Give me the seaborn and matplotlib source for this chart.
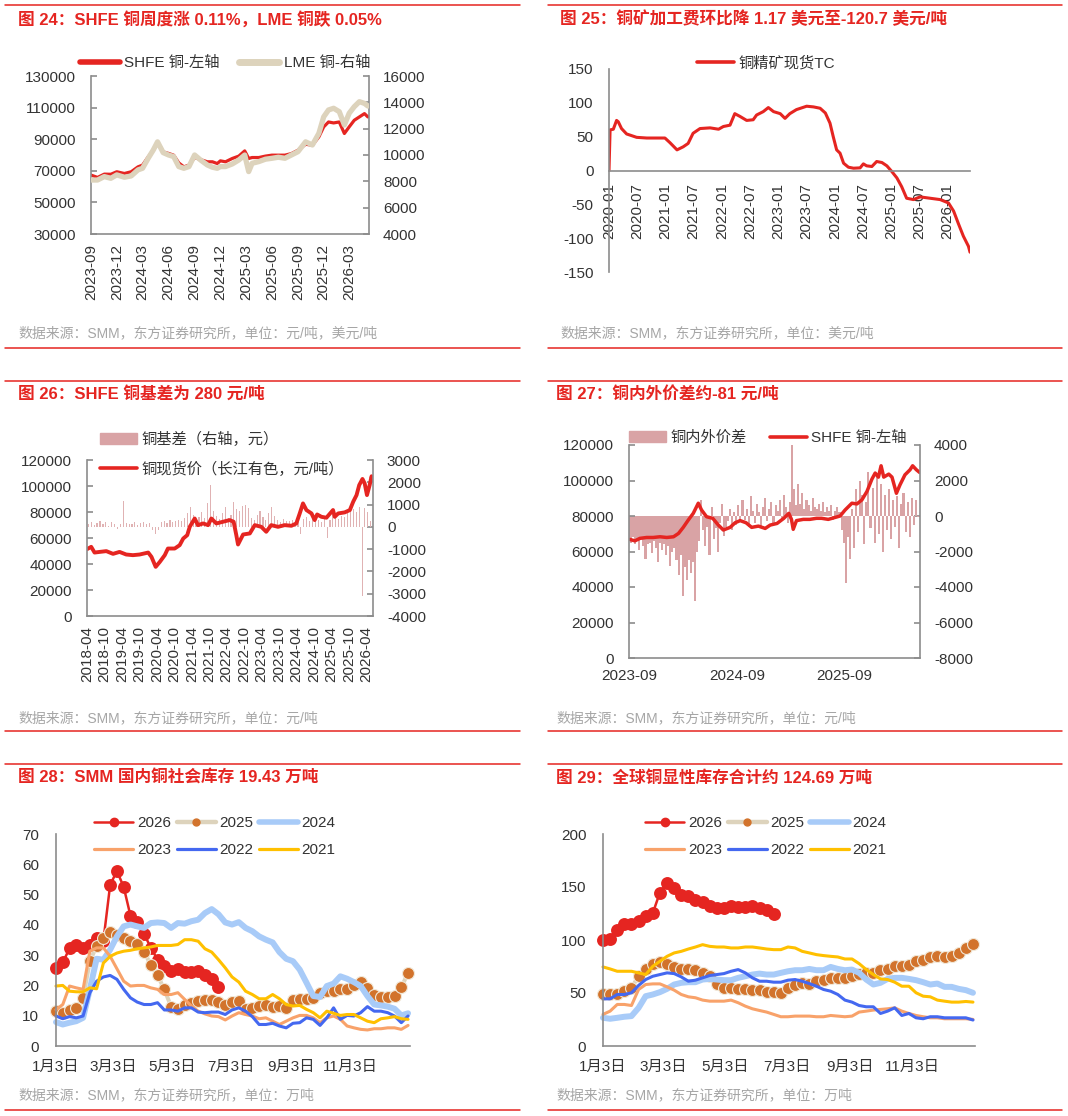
# copper weekly report page: six small charts (fig 24 - fig 29)
import numpy as np
import pandas as pd
import matplotlib
matplotlib.use("Agg")
from matplotlib import pyplot as plt
from matplotlib.lines import Line2D
from matplotlib.patches import Patch
from matplotlib.ticker import FuncFormatter
import matplotlib.dates as mdates
import seaborn as sns

sns.set_style("white")
plt.rcParams['font.family'] = ['Liberation Sans', 'Noto Sans CJK SC']
plt.rcParams['axes.unicode_minus'] = False

# colours picked from the report
RED = "#E52521"
BEIGE = "#DDD3BC"
PINK = "#D9A3A5"
GREY = "#8C8C8C"
TXT = "#333333"
SRC = "#A6A6A6"
BROWN = "#D2732C"
LBLUE = "#A8CBF8"
ORANGE = "#F8A26A"
BLUE = "#4468F0"
YELLOW = "#FFC000"

# ---------------- data ----------------
# fig 24: SHFE copper (yuan/t, left) and LME copper (usd/t, right)
p24_dates = ["2023-09-01", "2023-09-24", "2023-10-18", "2023-11-10", "2023-12-01", "2023-12-28",
             "2024-01-21", "2024-02-14", "2024-03-01", "2024-03-21", "2024-04-08", "2024-04-23",
             "2024-05-13", "2024-06-01", "2024-06-19", "2024-07-07", "2024-07-25", "2024-08-12",
             "2024-09-01", "2024-09-22", "2024-10-16", "2024-11-03", "2024-11-20", "2024-12-01",
             "2024-12-19", "2025-01-12", "2025-02-04", "2025-02-25", "2025-03-11", "2025-03-23",
             "2025-04-16", "2025-05-09", "2025-06-01", "2025-06-24", "2025-07-17", "2025-08-09",
             "2025-09-01", "2025-09-28", "2025-10-22", "2025-11-14", "2025-12-01", "2025-12-18",
             "2026-01-05", "2026-01-25", "2026-02-12", "2026-03-01", "2026-03-19", "2026-04-06",
             "2026-04-24", "2026-05-06"]
p24_shfe = [67300, 65800, 67900, 67800, 69400, 68300, 69400, 72500, 73600, 78800, 83000, 87700,
            82000, 81000, 79900, 75000, 72500, 73600, 78400, 77100, 75700, 75700, 74600, 76300,
            75700, 77800, 79300, 82600, 77800, 78400, 78400, 79300, 79900, 79900, 79900, 80900,
            83000, 86800, 86200, 91500, 97800, 100900, 100300, 100900, 93600, 97800, 102000,
            104100, 106200, 104100]
p24_lme = [8100, 8100, 8360, 8230, 8490, 8310, 8410, 8870, 8990, 9750, 10380, 11000,
           10180, 10000, 9880, 9120, 8990, 9120, 10000, 9620, 9240, 9070, 8990, 9120,
           9120, 9320, 9620, 10000, 8740, 9370, 9500, 9680, 9750, 9830, 9750, 10000,
           10250, 11000, 10760, 11650, 12900, 13420, 13550, 13290, 12280, 13170, 13670,
           14050, 13920, 13720]

# fig 25: copper concentrate spot TC (usd/t)
p25_dates = ["2020-01-01", "2020-01-08", "2020-01-29", "2020-02-19", "2020-03-01", "2020-03-22",
             "2020-04-24", "2020-06-28", "2020-09-01", "2020-11-05", "2020-12-28", "2021-01-30",
             "2021-03-16", "2021-04-25", "2021-05-27", "2021-06-28", "2021-08-12", "2021-10-16",
             "2021-12-10", "2022-01-10", "2022-02-22", "2022-03-25", "2022-04-27", "2022-06-10",
             "2022-07-22", "2022-08-13", "2022-09-25", "2022-10-28", "2022-12-01", "2023-01-13",
             "2023-02-13", "2023-03-16", "2023-04-28", "2023-07-03", "2023-08-16", "2023-09-28",
             "2023-11-01", "2023-12-01", "2023-12-22", "2024-01-13", "2024-02-04", "2024-02-27",
             "2024-03-29", "2024-05-01", "2024-06-13", "2024-07-04", "2024-07-25", "2024-08-28",
             "2024-09-28", "2024-11-01", "2024-12-03", "2025-01-04", "2025-02-06", "2025-03-09",
             "2025-04-10", "2025-05-24", "2025-07-06", "2025-09-09", "2025-11-13", "2026-01-06",
             "2026-02-08", "2026-03-10", "2026-04-12", "2026-05-15", "2026-05-25"]
p25_tc = [0, 60, 61, 74, 72, 62, 54, 49, 48, 48, 48, 41, 30.5, 35, 40, 55, 62, 63, 61,
          65, 67, 84, 80, 74, 75, 82, 87, 93, 87, 84, 77, 84, 90, 95, 94, 92, 85, 70, 50,
          30.5, 25.6, 10.8, 4.9, 3.4, 3.9, 9.8, 6.9, 5.9, 13.3, 11.8, 6.9,
          -1.5, -11, -24, -41, -43, -39, -41, -43, -48, -60, -78, -97, -112, -120.7]

# fig 26: changjiang spot price (left) and monthly basis (right)
p26_dates = ["2018-04-01", "2018-05-15", "2018-06-19", "2018-08-11", "2018-10-20", "2018-12-29",
             "2019-03-07", "2019-05-16", "2019-07-25", "2019-10-03", "2020-01-01", "2020-02-04",
             "2020-03-19", "2020-05-01", "2020-06-22", "2020-07-25", "2020-10-04", "2020-11-25",
             "2021-01-01", "2021-02-12", "2021-03-10", "2021-05-01", "2021-06-04", "2021-07-28",
             "2021-09-18", "2021-10-22", "2021-12-13", "2022-02-21", "2022-05-01", "2022-06-12",
             "2022-07-10", "2022-07-28", "2022-09-19", "2022-11-28", "2023-01-19", "2023-03-28",
             "2023-05-19", "2023-07-10", "2023-09-19", "2023-11-28", "2024-02-06", "2024-03-28",
             "2024-05-03", "2024-06-06", "2024-07-12", "2024-09-03", "2024-10-06", "2024-11-01",
             "2024-12-16", "2025-02-06", "2025-04-16", "2025-05-04", "2025-06-09", "2025-08-16",
             "2025-10-09", "2025-11-13", "2025-12-18", "2026-01-15", "2026-02-18", "2026-03-13",
             "2026-04-06", "2026-05-04", "2026-05-24", "2026-06-06"]
p26_spot = [51400, 53200, 48800, 49300, 49900, 47800, 49300, 47300, 46800, 47300, 48800, 45500,
            37800, 41600, 46800, 51900, 51900, 54500, 59600, 62200, 68600, 75000, 69900, 71200,
            69900, 75000, 71200, 72500, 73800, 72500, 62200, 55000, 62700, 63500, 69900, 68600,
            64800, 69900, 68600, 69900, 69400, 71200, 78900, 86600, 81500, 78900, 73800, 78100,
            76300, 75600, 81500, 76300, 78900, 79700, 81500, 87900, 93000, 100700, 105400, 102000,
            93000, 100700, 107500, 104600]
# basis, one value per month from 2018-04 to 2026-05
p26_basis = [150, 220, 90, 180, 250, 120, 200, 60, 230,
             120, -80, 150, 1150, 180, 120, 150, 200, 90, 160, 230, 110,
             180, -150, -300, -120, 200, 250, 180, 300, 220, 280, 320, 250,
             380, 600, 900, 520, 300, 450, 650, 380, 1050, 1900, 700, 480,
             350, 620, 900, 400, 550, 1100, 800, 700, 950, 1000, 850, 400,
             300, 550, 700, 450, 300, 600, 900, 500, 300, 200, 350, 280,
             250, 300, 150, 200, -300, 350, 450, 250, 400, 350, 300, 200,
             450, -500, 300, 550, 400, 350, 500, 450, 600, 700, 800, 650,
             900, -3100, 850, 650, 280]

# fig 27: SHFE copper (left) and weekly domestic / overseas spread (right)
p27_dates = ["2023-09-04", "2023-09-21", "2023-10-08", "2023-10-31", "2023-11-22", "2023-12-15",
             "2024-01-07", "2024-01-30", "2024-02-16", "2024-03-03", "2024-03-20", "2024-04-06",
             "2024-04-23", "2024-05-04", "2024-05-21", "2024-06-11", "2024-06-30", "2024-07-17",
             "2024-08-09", "2024-08-26", "2024-09-12", "2024-10-02", "2024-10-21", "2024-11-13",
             "2024-12-06", "2024-12-23", "2025-01-15", "2025-02-07", "2025-02-24", "2025-03-05",
             "2025-03-11", "2025-03-22", "2025-04-14", "2025-05-06", "2025-05-29", "2025-06-15",
             "2025-07-08", "2025-07-31", "2025-08-17", "2025-09-03", "2025-09-26", "2025-10-13",
             "2025-10-30", "2025-11-16", "2025-12-03", "2025-12-14", "2025-12-25", "2026-01-03",
             "2026-01-12", "2026-01-29", "2026-02-09", "2026-02-24", "2026-03-08", "2026-03-25",
             "2026-04-11", "2026-04-20", "2026-05-03", "2026-05-14"]
p27_shfe = [66800, 66000, 67400, 67900, 67900, 68300, 67900, 68300, 70200, 73600, 77700, 81500,
            87200, 83400, 79600, 78700, 74900, 72100, 73600, 76200, 77400, 76200, 73600, 74300,
            73000, 74900, 75800, 78700, 81500, 78100, 72500, 77400, 78100, 78100, 78700, 78700,
            78100, 79200, 80000, 83400, 87200, 86800, 89100, 93800, 100800, 104200, 101900, 108300,
            101900, 103600, 101900, 92800, 97500, 103200, 106000, 108300, 106000, 104500]
# spread, one value per week from 2023-09-01
p27_spread = [-1300, -1500, -1200, -1600,
              -1400, -1900, -1300, -1700, -2400,
              -1600, -1500, -2100, -1400,
              -1800, -2600, -1500, -1900, -1600,
              -2200, -1700, -2800, -2000,
              -1800, -2500, -3300, -2200,
              -4500, -2900, -3600, -2500, -3200,
              -2600, -4800, -2000, -1400,
              900, -800, -1700, -600,
              -2200, 500, -1300, -700, -2000,
              -400, 700, -1100, -600,
              -300, 400, -800, 200, -500,
              600, -300, 900, -200,
              400, -600, 1100, 300,
              -400, 700, 200, -700, 500,
              1000, -300, 400, 800,
              -500, 600, 300, 900,
              -200, 1200, 500, -400,
              800, 4000, 1500, 600, 1800,
              700, 1300, 400, 900,
              600, 300, 1000, 500,
              400, 700, 300, 800, 200,
              500, 300, 600, -200,
              300, 500, 200, -800, -1500,
              -3800, -1200, -2400, 400,
              -1800, 1500, -900, 2000,
              1200, -1600, 800, 2500, -700,
              1600, -1500, 2200, -1000,
              1800, -2000, 1200, -800,
              1500, -1300, 900, -600,
              1100, -1800, 700, 1300, -900,
              800, -1200, 1000, -500,
              900, -81]

# fig 28: SMM domestic social inventory (10k t), weekly from 1月3日
inv28 = {
    "2026": [25.6, 27.6, 32.2, 33.2, 32.2, 33.5, 35.5, 34.8, 53.2, 57.8, 52.5, 43.0, 41.0,
             37.0, 32.5, 28.5, 26.5, 24.8, 25.3, 24.5, 24.5, 24.6, 23.5, 22.0, 19.43],
    "2025": [11.5, 11.0, 12.0, 12.6, 16.0, 28.0, 33.0, 35.7, 37.5, 36.8, 35.7, 34.6, 33.8,
             31.0, 26.9, 23.3, 18.7, 13.0, 12.3, 13.4, 14.3, 14.8, 15.1, 15.1, 14.5, 13.4,
             14.5, 14.8, 12.1, 12.6, 13.2, 13.4, 13.0, 13.2, 12.6, 15.1, 15.4, 15.4, 15.9,
             17.6, 18.1, 18.1, 18.7, 18.7, 20.0, 21.0, 19.2, 17.0, 16.2, 16.2, 16.5, 19.4, 24.1],
    "2024": [7.9, 7.1, 7.7, 8.2, 9.3, 18.7, 28.8, 28.5, 31.8, 36.2, 39.5, 40.1, 39.5, 39.0,
             40.6, 40.8, 40.6, 39.0, 40.6, 40.4, 41.2, 41.7, 43.9, 45.2, 43.5, 40.8, 40.1,
             40.9, 39.0, 37.9, 36.2, 35.1, 34.2, 31.0, 28.8, 28.0, 25.2, 20.9, 16.5, 16.2,
             19.8, 20.6, 23.0, 22.2, 21.1, 19.8, 16.5, 13.7, 13.4, 13.0, 12.3, 10.1, 10.8],
    "2023": [12.0, 13.7, 19.8, 19.2, 18.7, 31.3, 32.4, 32.4, 29.6, 25.5, 21.4, 19.8, 20.0,
             20.0, 19.2, 18.7, 17.0, 17.0, 17.6, 15.4, 13.2, 11.5, 10.6, 9.9, 9.7, 8.6, 9.9,
             11.0, 10.4, 9.9, 9.0, 9.3, 8.2, 7.1, 8.2, 9.3, 10.1, 10.1, 9.3, 7.7, 9.3, 9.9,
             8.8, 6.6, 6.0, 5.5, 5.3, 5.7, 5.7, 6.0, 6.0, 5.5, 6.8],
    "2022": [9.9, 9.0, 9.7, 9.3, 9.9, 17.6, 21.4, 22.8, 23.3, 22.0, 18.7, 15.9, 14.5, 13.7,
             13.7, 14.3, 11.9, 11.9, 11.5, 12.6, 12.6, 11.2, 11.0, 11.2, 11.2, 10.4, 11.9,
             12.6, 11.5, 9.7, 7.1, 7.1, 7.5, 6.6, 6.0, 7.5, 7.7, 9.3, 8.8, 6.8, 9.3, 12.6,
             8.8, 10.1, 9.9, 11.0, 13.0, 11.5, 11.5, 11.0, 9.9, 7.7, 9.9],
    "2021": [19.8, 20.0, 18.1, 17.9, 17.9, 19.2, 18.9, 27.4, 29.6, 30.7, 31.3, 31.6, 32.1,
             32.4, 32.7, 33.2, 33.2, 33.2, 33.5, 35.1, 35.1, 34.6, 32.1, 31.0, 28.5, 25.8,
             22.8, 21.1, 18.1, 17.0, 15.6, 15.6, 17.0, 15.6, 13.7, 13.2, 13.4, 12.1, 11.0,
             9.3, 11.5, 10.8, 10.1, 10.4, 10.4, 9.3, 8.2, 7.7, 9.0, 9.3, 9.7, 9.0, 8.8],
}

# fig 29: global visible inventory (10k t), weekly from 1月3日
inv29 = {
    "2026": [100.3, 100.9, 109.0, 115.4, 115.4, 117.6, 122.3, 125.4, 144.8, 153.6, 148.9,
             142.6, 141.1, 137.9, 135.4, 132.3, 130.1, 130.1, 131.7, 131.0, 131.0, 131.7,
             130.1, 127.9, 124.69],
    "2025": [49.5, 49.5, 49.5, 51.7, 54.9, 65.8, 72.7, 77.7, 79.0, 77.7, 74.6, 72.7, 72.7,
             71.5, 69.0, 65.8, 58.9, 54.9, 54.9, 53.9, 53.9, 52.7, 52.7, 50.8, 50.8, 50.2,
             54.9, 58.0, 59.6, 58.9, 61.1, 62.7, 64.3, 64.3, 64.3, 65.8, 68.3, 69.0, 69.0,
             71.5, 72.7, 75.2, 75.2, 76.8, 79.9, 81.5, 84.0, 84.6, 84.0, 85.3, 87.8, 92.5, 96.6],
    "2024": [26.6, 25.7, 26.6, 27.6, 28.2, 36.0, 47.0, 48.6, 50.8, 53.9, 58.0, 59.6, 60.2,
             60.2, 62.7, 63.3, 62.7, 62.1, 62.1, 64.3, 65.8, 67.4, 68.3, 67.4, 67.4, 69.0,
             70.5, 71.5, 71.5, 72.7, 71.5, 71.5, 74.6, 72.7, 71.5, 72.1, 69.0, 62.7, 58.0,
             59.6, 63.3, 64.3, 64.3, 63.3, 62.1, 60.2, 58.0, 58.9, 55.8, 55.8, 53.9, 52.7, 50.2],
    "2023": [29.8, 32.9, 39.2, 39.2, 38.2, 53.3, 58.0, 58.6, 58.6, 55.8, 52.7, 48.6, 46.4,
             45.5, 43.3, 42.3, 42.3, 42.3, 43.3, 40.8, 37.6, 35.1, 33.5, 32.0, 29.8, 27.6,
             27.6, 28.2, 28.2, 28.2, 27.6, 27.6, 28.8, 28.2, 27.6, 28.2, 32.0, 32.9, 33.9,
             34.5, 35.1, 36.0, 32.9, 30.7, 28.8, 27.6, 26.6, 26.6, 25.7, 25.7, 25.7, 25.7, 25.1],
    "2022": [44.5, 44.5, 48.6, 48.6, 50.2, 57.1, 62.7, 65.8, 67.4, 69.0, 68.3, 65.2, 61.1,
             62.1, 64.3, 66.5, 67.4, 68.3, 70.5, 72.1, 69.0, 64.3, 61.1, 61.1, 60.2, 60.2,
             62.1, 62.7, 61.1, 58.9, 56.4, 53.3, 51.7, 48.6, 43.3, 41.4, 38.2, 37.0, 37.0,
             30.7, 32.9, 36.0, 28.8, 30.7, 26.6, 25.7, 27.6, 27.6, 26.6, 26.6, 26.6, 26.6, 24.5],
    "2021": [74.6, 72.7, 70.5, 70.5, 70.5, 69.0, 67.4, 75.2, 79.9, 84.6, 87.8, 89.3, 91.5,
             93.4, 95.6, 94.0, 93.4, 93.4, 92.5, 92.5, 93.4, 93.4, 92.5, 91.5, 90.9, 90.9,
             93.4, 92.5, 89.3, 87.8, 86.2, 85.3, 84.6, 84.0, 82.1, 82.1, 77.7, 72.1, 67.4,
             63.3, 62.7, 60.2, 56.4, 56.4, 50.2, 47.0, 46.4, 43.3, 42.3, 41.4, 41.4, 42.0, 41.4],
}

week_ticks = [2, 61, 122, 183, 245, 306]
week_labels = ["1月3日", "3月3日", "5月3日", "7月3日", "9月3日", "11月3日"]

# page size in pixels
W, H = 1068, 1116


def fx(x):
    return x / W


def fy(y):
    return 1 - y / H


def box(x0, y0, x1, y1):
    # axes rectangle from pixel corners
    return [fx(x0), fy(y1), fx(x1) - fx(x0), fy(y0) - fy(y1)]


def header(fig, x0, x1, top, bottom, tx, ty, title, sy, source):
    # red rules, red title and grey source line of one block
    for y in (top, bottom):
        fig.add_artist(Line2D([fx(x0), fx(x1)], [fy(y), fy(y)], color=RED, lw=1.1,
                              transform=fig.transFigure))
    fig.text(fx(tx), fy(ty), title, color=RED, fontsize=12, fontweight="bold", va="center")
    fig.text(fx(tx), fy(sy), source, color=SRC, fontsize=10, va="center")


def style(ax, show, direction="in", pad=11):
    for s in ax.spines:
        ax.spines[s].set_visible(s in show)
        ax.spines[s].set_color(GREY)
        ax.spines[s].set_linewidth(1.2)
    ax.tick_params(direction=direction, length=4, width=1.2, color=GREY,
                   labelsize=11, labelcolor=TXT, pad=pad)
    ax.set_xlabel("")
    ax.set_ylabel("")
    ax.grid(False)
    ax.yaxis.set_major_formatter(FuncFormatter(lambda v, p: f"{v:.0f}"))


def date_axis(ax, start, end, ticks, pad, rotation=90):
    ax.set_xlim(pd.Timestamp(start), pd.Timestamp(end))
    ax.set_xticks(ticks)
    ax.xaxis.set_major_formatter(mdates.DateFormatter("%Y-%m"))
    ax.tick_params(axis="x", pad=pad, labelrotation=rotation)


def plot_24(fig):
    ax = fig.add_axes(box(91, 76, 369, 234))
    ax2 = ax.twinx()
    d = pd.to_datetime(p24_dates)
    sns.lineplot(x=d, y=p24_shfe, ax=ax, color=RED, linewidth=2.3, legend=False)
    sns.lineplot(x=d, y=p24_lme, ax=ax2, color=BEIGE, linewidth=3.8, legend=False)
    style(ax, ["left", "right", "bottom"])
    style(ax2, [], pad=10)
    ax.set_ylim(30000, 130000)
    ax.set_yticks(range(30000, 130001, 20000))
    ax2.set_ylim(4000, 16000)
    ax2.set_yticks(range(4000, 16001, 2000))
    date_axis(ax, "2023-09-01", "2026-05-10",
              pd.date_range("2023-09-01", "2026-03-01", freq="3MS"), pad=7)
    h = [Line2D([], [], color=RED, lw=4), Line2D([], [], color=BEIGE, lw=5)]
    fig.legend(h, ["SHFE 铜-左轴", "LME 铜-右轴"], loc="center", bbox_to_anchor=(fx(225), fy(63)),
               ncol=2, frameon=False, fontsize=11, handlelength=2.6, handletextpad=0.3,
               columnspacing=1.3, labelcolor=TXT, borderpad=0)


def plot_25(fig):
    ax = fig.add_axes(box(609, 69, 970, 272))
    d = pd.to_datetime(p25_dates)
    sns.lineplot(x=d, y=p25_tc, ax=ax, color=RED, linewidth=2.2, legend=False)
    style(ax, ["left", "bottom"])
    ax.spines["bottom"].set_position(("data", 0))
    ax.set_ylim(-150, 150)
    ax.set_yticks(range(-150, 151, 50))
    date_axis(ax, "2020-01-01", "2026-05-25",
              pd.date_range("2020-01-01", "2026-01-01", freq="6MS"), pad=9)
    h = [Line2D([], [], color=RED, lw=2.6)]
    fig.legend(h, ["铜精矿现货TC"], loc="center", bbox_to_anchor=(fx(766), fy(63)),
               frameon=False, fontsize=11, handlelength=2.4, handletextpad=0.3,
               labelcolor=TXT, borderpad=0)


def plot_26(fig):
    ax = fig.add_axes(box(87, 460, 373, 616))
    ax2 = ax.twinx()
    bd = pd.date_range("2018-04-01", periods=len(p26_basis), freq="MS") + pd.Timedelta(days=14)
    # thin light pink basis bars
    ax2.bar(bd, p26_basis, width=12, color="#E0B2B3", linewidth=0)
    d = pd.to_datetime(p26_dates)
    sns.lineplot(x=d, y=p26_spot, ax=ax, color=RED, linewidth=2.8, legend=False)
    # price line over the basis bars
    ax.set_zorder(ax2.get_zorder() + 1)
    ax.patch.set_visible(False)
    style(ax, ["left", "right", "bottom"])
    style(ax2, [], pad=10)
    ax.set_ylim(0, 120000)
    ax.set_yticks(range(0, 120001, 20000))
    ax2.set_ylim(-4000, 3000)
    ax2.set_yticks(range(-4000, 3001, 1000))
    date_axis(ax, "2018-04-01", "2026-06-08",
              pd.date_range("2018-04-01", "2026-04-01", freq="6MS"), pad=7)
    h = [Patch(color=PINK), Line2D([], [], color=RED, lw=2.6)]
    fig.legend(h, ["铜基差（右轴，元）", "铜现货价（长江有色，元/吨）"], loc="upper left",
               bbox_to_anchor=(fx(100), fy(432)), frameon=False, fontsize=11,
               handlelength=2.4, handletextpad=0.3, labelspacing=0.95, labelcolor=TXT,
               borderpad=0, borderaxespad=0)


def plot_27(fig):
    ax = fig.add_axes(box(629, 445, 920, 658))
    ax2 = ax.twinx()
    sd = pd.date_range("2023-09-01", periods=len(p27_spread), freq="7D")
    ax2.bar(sd, p27_spread, width=7, color=PINK, linewidth=0)
    d = pd.to_datetime(p27_dates)
    sns.lineplot(x=d, y=p27_shfe, ax=ax, color=RED, linewidth=2.5, legend=False)
    ax.set_zorder(ax2.get_zorder() + 1)
    ax.patch.set_visible(False)
    style(ax, ["left", "right", "bottom"])
    style(ax2, [], pad=10)
    ax.set_ylim(0, 120000)
    ax.set_yticks(range(0, 120001, 20000))
    ax2.set_ylim(-8000, 4000)
    ax2.set_yticks(range(-8000, 4001, 2000))
    date_axis(ax, "2023-09-01", "2026-05-15",
              pd.to_datetime(["2023-09-01", "2024-09-01", "2025-09-01"]), pad=8, rotation=0)
    h = [Patch(color=PINK), Line2D([], [], color=RED, lw=2.6)]
    fig.legend(h, ["铜内外价差", "SHFE 铜-左轴"], loc="center", bbox_to_anchor=(fx(768), fy(438)),
               ncol=2, frameon=False, fontsize=11, handlelength=2.4, handletextpad=0.3,
               columnspacing=1.5, labelcolor=TXT, borderpad=0)


def plot_inventory(fig, rect, inv, ylim, step, legend_x):
    ax = fig.add_axes(rect)
    days = np.arange(2, 2 + 7 * 53, 7)  # weekly dates as day of year
    looks = {
        "2026": dict(color=RED, linewidth=1.8, marker="o", markersize=9.3,
                     markerfacecolor=RED, markeredgecolor=RED, markeredgewidth=0),
        "2025": dict(color=BEIGE, linewidth=2.9, marker="o", markersize=8.6,
                     markerfacecolor=BROWN, markeredgecolor="#F1E8D8", markeredgewidth=0.8),
        "2024": dict(color=LBLUE, linewidth=4.3),
        "2023": dict(color=ORANGE, linewidth=2.2),
        "2022": dict(color=BLUE, linewidth=2.2),
        "2021": dict(color=YELLOW, linewidth=2.2),
    }
    for year in ["2026", "2025", "2024", "2023", "2022", "2021"]:
        v = inv[year]
        sns.lineplot(x=days[:len(v)], y=v, ax=ax, legend=False, clip_on=False, **looks[year])
    style(ax, ["left", "bottom"], direction="out", pad=8)
    ax.set_xlim(2, 368)
    ax.set_xticks(week_ticks)
    ax.set_xticklabels(week_labels)
    ax.tick_params(axis="x", pad=6)
    ax.set_ylim(*ylim)
    ax.set_yticks(np.arange(ylim[0], ylim[1] + 1, step))
    h = {
        "2026": Line2D([], [], color=RED, lw=1.8, marker="o", ms=6, mec=RED),
        "2025": Line2D([], [], color=BEIGE, lw=3.2, marker="o", ms=5, mfc=BROWN, mec=BROWN),
        "2024": Line2D([], [], color=LBLUE, lw=4),
        "2023": Line2D([], [], color=ORANGE, lw=2.3),
        "2022": Line2D([], [], color=BLUE, lw=2.3),
        "2021": Line2D([], [], color=YELLOW, lw=2.3),
    }
    # legend fills column by column, so interleave the two rows
    order = ["2026", "2023", "2025", "2022", "2024", "2021"]
    fig.legend([h[k] for k in order], order, loc="center", ncol=3,
               bbox_to_anchor=(fx(legend_x), fy(836.5)), frameon=False, fontsize=11,
               handlelength=2.55, handletextpad=0.25, columnspacing=0.35, labelspacing=0.85,
               labelcolor=TXT, borderpad=0)


def main():
    fig = plt.figure(figsize=(W / 100, H / 100), dpi=100)
    header(fig, 5, 520, 5, 348, 18, 19, "图 24：SHFE 铜周度涨 0.11%，LME 铜跌 0.05%",
           333, "数据来源：SMM，东方证券研究所，单位：元/吨，美元/吨")
    header(fig, 548, 1062, 5, 348, 560, 19, "图 25：铜矿加工费环比降 1.17 美元至-120.7 美元/吨",
           333, "数据来源：SMM，东方证券研究所，单位：美元/吨")
    header(fig, 5, 520, 381, 731, 18, 394, "图 26：SHFE 铜基差为 280 元/吨",
           718, "数据来源：SMM，东方证券研究所，单位：元/吨")
    header(fig, 548, 1062, 381, 731, 556, 394, "图 27：铜内外价差约-81 元/吨",
           718, "数据来源：SMM，东方证券研究所，单位：元/吨")
    header(fig, 5, 520, 764, 1110, 18, 778, "图 28：SMM 国内铜社会库存 19.43 万吨",
           1095, "数据来源：SMM，东方证券研究所，单位：万吨")
    header(fig, 548, 1062, 764, 1110, 556, 778, "图 29：全球铜显性库存合计约 124.69 万吨",
           1095, "数据来源：SMM，东方证券研究所，单位：万吨")
    plot_24(fig)
    plot_25(fig)
    plot_26(fig)
    plot_27(fig)
    plot_inventory(fig, box(56, 834, 410, 1046), inv28, (0, 70), 10, 215)
    plot_inventory(fig, box(603, 834, 975, 1046), inv29, (0, 200), 50, 766)
    fig.savefig("out.png", dpi=100)


if __name__ == "__main__":
    main()
